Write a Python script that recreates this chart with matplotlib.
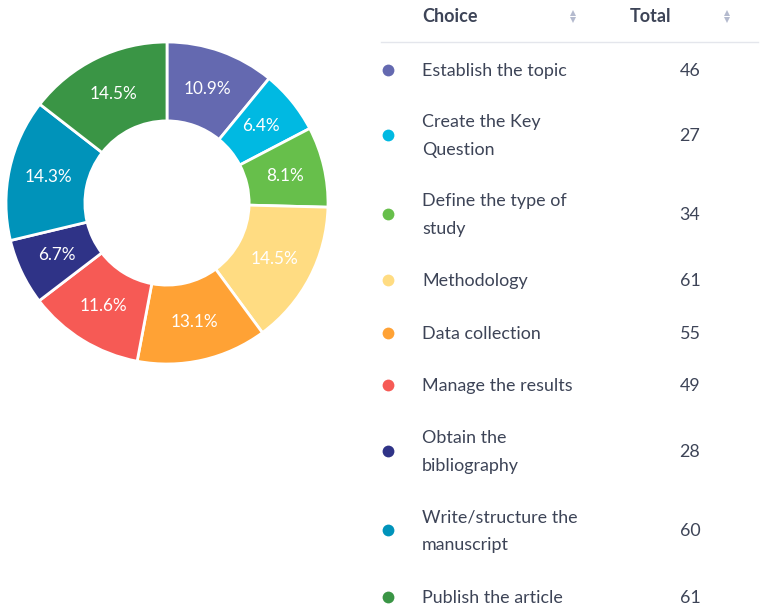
import matplotlib
matplotlib.use("Agg")
import matplotlib.pyplot as plt

choices = ["Establish the topic", "Create the Key\nQuestion", "Define the type of\nstudy",
           "Methodology", "Data collection", "Manage the results",
           "Obtain the\nbibliography", "Write/structure the\nmanuscript", "Publish the article"]
totals = [46, 27, 34, 61, 55, 49, 28, 60, 61]
colors = ["#6469b0", "#00b9e2", "#67bf4b", "#ffdc82", "#ffa235", "#f65a55",
          "#2f3387", "#0093ba", "#3a9545"]
row_y = [70, 135, 214, 280, 333, 385, 451, 530, 597]

plt.rcParams['font.family'] = ['Lato', 'DejaVu Sans']
W, H = 767, 612
fig = plt.figure(figsize=(W / 100, H / 100), dpi=100)

cx, cy, r = 167, 203, 161
ax = fig.add_axes([(cx - r) / W, (H - cy - r) / H, 2 * r / W, 2 * r / H])
wedges, texts, autotexts = ax.pie(
    totals, colors=colors, startangle=90, counterclock=False, radius=1,
    autopct='%1.1f%%', pctdistance=0.755,
    wedgeprops=dict(width=0.49, edgecolor='white', linewidth=2),
    textprops=dict(color='white', fontsize=12.3))
ax.set_xlim(-1, 1)
ax.set_ylim(-1, 1)
ax.axis('off')

ov = fig.add_axes([0, 0, 1, 1])
ov.set_xlim(0, W)
ov.set_ylim(H, 0)
ov.axis('off')

txt_color = "#3d4457"
ov.text(422, 16.5, "Choice", fontsize=13, fontweight='bold', color=txt_color, va='center', ha='left')
ov.text(630, 16.5, "Total", fontsize=13, fontweight='bold', color=txt_color, va='center', ha='left')
for sx in (573, 727):
    ov.plot([sx], [12.5], marker='^', markersize=4, color='#b4bace', markeredgewidth=0)
    ov.plot([sx], [19.5], marker='v', markersize=4, color='#b4bace', markeredgewidth=0)
ov.plot([381, 758], [42, 42], color='#e4e6ec', linewidth=1)

for name, tot, c, y in zip(choices, totals, colors, row_y):
    ov.plot([388], [y], marker='o', markersize=8.5, color=c, markeredgewidth=0)
    ov.text(422, y + 1, name, fontsize=12.9, color=txt_color, va='center', ha='left', linespacing=1.87)
    ov.text(690, y + 1, str(tot), fontsize=12.9, color=txt_color, va='center', ha='center')

fig.savefig("out.png", dpi=100)
